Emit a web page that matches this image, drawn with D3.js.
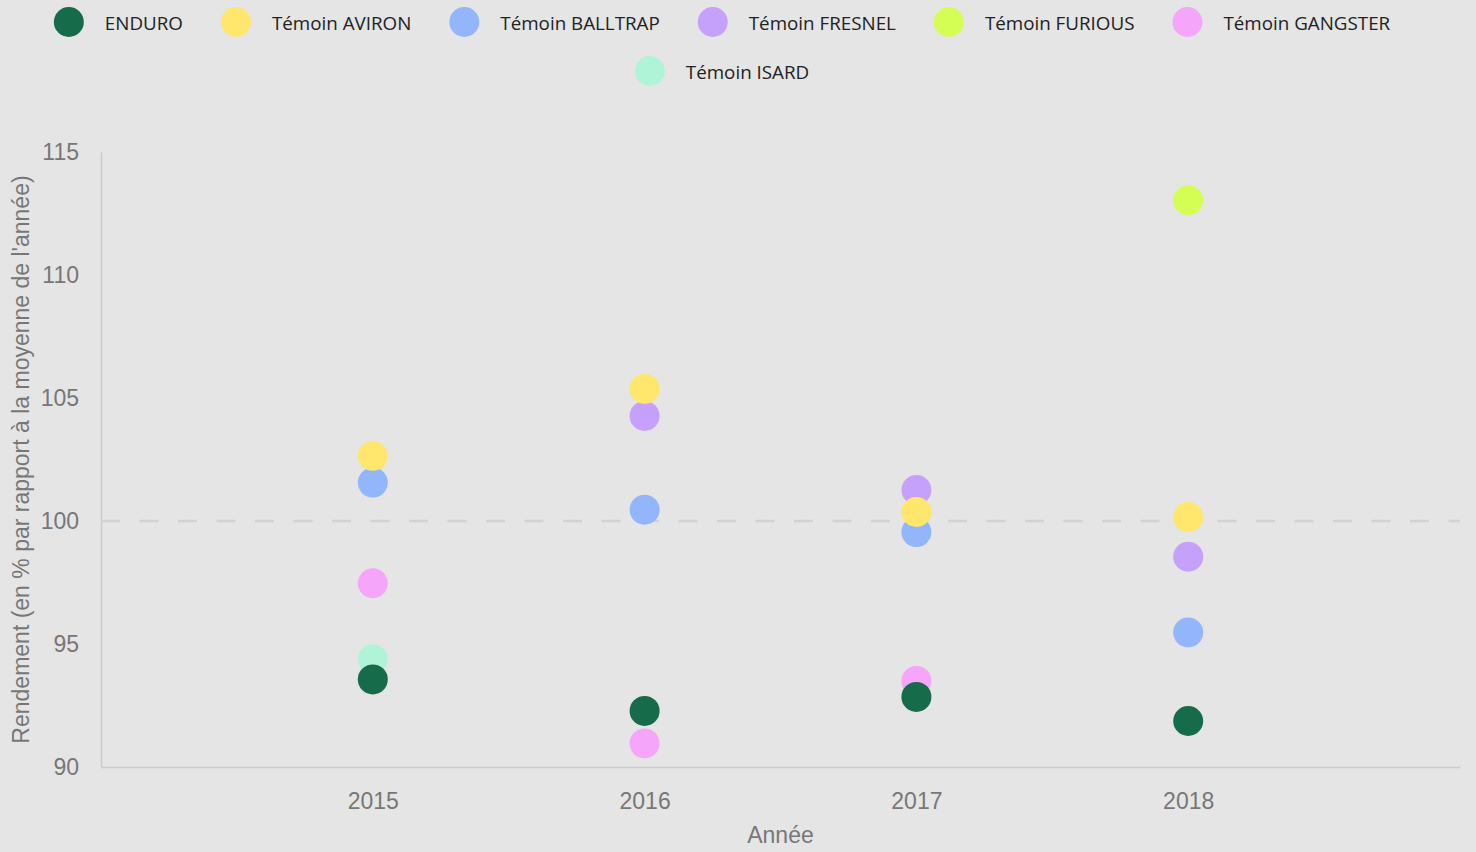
<!DOCTYPE html>
<html>
<head>
<meta charset="utf-8">
<script src="https://cdn.jsdelivr.net/npm/d3@7"></script>
<style>
  html, body { margin:0; padding:0; background:#e5e5e5; }
  svg { display:block; }
  .tick text { font-family:"Liberation Sans", Arial, sans-serif; font-size:23px; fill:#777; }
  .legend text { font-family:"Open Sans", sans-serif; font-size:18.8px; fill:#222; }
</style>
</head>
<body>
<svg id="chart" width="1476" height="852"></svg>
<script>
const years = [2015, 2016, 2017, 2018];
const seriesNames = ["ENDURO", "Témoin AVIRON", "Témoin BALLTRAP", "Témoin FRESNEL", "Témoin FURIOUS", "Témoin GANGSTER", "Témoin ISARD"];
const seriesColors = ["#166b4b", "#ffe66d", "#92b5fb", "#c5a1fb", "#d4fe54", "#f5a6fb", "#b0f4d8"];
// values per year, null where the series has no point
const enduro   = [93.56, 92.28, 92.85, 91.87];
const aviron   = [102.65, 105.37, 100.37, 100.16];
const balltrap = [101.56, 100.46, 99.55, 95.47];
const fresnel  = [null, 104.27, 101.26, 98.55];
const furious  = [null, null, null, 113.04];
const gangster = [97.47, 90.96, 93.5, null];
const isard    = [94.38, null, null, null];
const yTicks = [90, 95, 100, 105, 110, 115];
const refValue = 100;

const seriesValues = [enduro, aviron, balltrap, fresnel, furious, gangster, isard];
// draw order: last legend entries first, ENDURO on top
const drawOrder = [6, 5, 4, 3, 2, 1, 0];

const W = 1476, H = 852;
const svg = d3.select("#chart");
const x = d3.scaleLinear().domain([2014, 2019]).range([101, 1460]);
const y = d3.scaleLinear().domain([90, 115]).range([767, 152]);

// axes
svg.append("g").attr("transform", `translate(0,${y(90)})`)
  .call(d3.axisBottom(x).tickValues(years).tickFormat(d3.format("d")).tickSize(0).tickPadding(26))
  .call(g => g.select(".domain").attr("stroke", "#cbcbcb").attr("stroke-width", 1.5));
svg.append("g").attr("transform", `translate(${x(2014)},0)`)
  .call(d3.axisLeft(y).tickValues(yTicks).tickSize(0).tickPadding(22))
  .call(g => g.select(".domain").attr("stroke", "#cbcbcb").attr("stroke-width", 1.5));

// reference line at 100
svg.append("line").attr("x1", x(2014)).attr("x2", x(2019)).attr("y1", y(refValue)).attr("y2", y(refValue))
  .attr("stroke", "#d2d2d2").attr("stroke-width", 2.5).attr("stroke-dasharray", "19,19.5");

// axis titles
svg.append("text").attr("x", (x(2014)+x(2019))/2).attr("y", 843).attr("text-anchor", "middle")
  .style("font-family", "'Liberation Sans', Arial, sans-serif").style("font-size", "23px").attr("fill", "#777").text("Année");
svg.append("text").attr("transform", `translate(29,${(y(90)+y(115))/2}) rotate(-90)`).attr("text-anchor", "middle")
  .style("font-family", "'Liberation Sans', Arial, sans-serif").style("font-size", "23px").attr("fill", "#777")
  .text("Rendement (en % par rapport à la moyenne de l'année)");

// points
const points = [];
for (const s of drawOrder) seriesValues[s].forEach((v, i) => { if (v != null) points.push({s, year:years[i], v}); });
svg.append("g").selectAll("circle").data(points).join("circle")
  .attr("cx", d => x(d.year)).attr("cy", d => y(d.v)).attr("r", 15).attr("fill", d => seriesColors[d.s]);

// legend, wrapped and centred
const legend = svg.append("g").attr("class", "legend");
const items = legend.selectAll("g").data(seriesNames).join("g");
items.append("circle").attr("cx", 15).attr("r", 15).attr("fill", (d, i) => seriesColors[i]);
items.append("text").attr("x", 51).attr("y", 1).attr("dy", "0.35em").text(d => d);
const widths = [];
items.each(function() { widths.push(51 + this.querySelector("text").getComputedTextLength() + 38); });
const rows = [[]];
let rowW = 0;
widths.forEach((w, i) => {
  if (rowW + w > W && rows.at(-1).length) { rows.push([]); rowW = 0; }
  rows.at(-1).push(i); rowW += w;
});
rows.forEach((row, r) => {
  const total = d3.sum(row, i => widths[i]);
  let cx = (W - total)/2 + 3;
  for (const i of row) {
    d3.select(items.nodes()[i]).attr("transform", `translate(${cx},${22 + r*49})`);
    cx += widths[i];
  }
});
</script>
</body>
</html>
